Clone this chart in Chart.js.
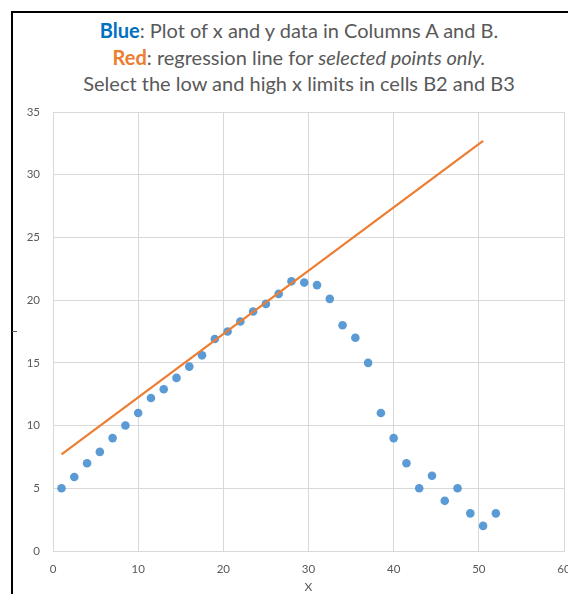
<!DOCTYPE html>
<html>
<head>
<meta charset="utf-8">
<script src="https://cdn.jsdelivr.net/npm/chart.js@4.4.1/dist/chart.umd.min.js"></script>
<style>
  html, body { margin: 0; padding: 0; background: #fff; overflow: hidden; width: 568px; height: 594px; }
  #frame { position: absolute; left: 11px; top: 11px; width: 700px; height: 700px;
           border-left: 2px solid #000; border-top: 2px solid #000; }
  #tickmark { position: absolute; left: 12px; top: 331px; width: 5px; height: 1px; background: #595959; }
  #title { position: absolute; left: 0; top: 17px; width: 598px; text-align: center;
           font-family: Lato, "Liberation Sans", sans-serif; font-size: 20px; line-height: 26.5px; color: #595959; }
  #title .b { color: #0070C0; font-weight: bold; }
  #title .r { color: #ED7D31; font-weight: bold; }
  #title i { font-style: italic; }
  canvas { position: absolute; left: 0; top: 0; }
</style>
</head>
<body>
<div id="frame"></div>
<div id="tickmark"></div>
<div id="title">
  <div><span class="b">Blue</span>: Plot of x and y data in Columns A and B.</div>
  <div><span class="r">Red</span>: regression line for <i>selected points only.</i></div>
  <div>Select the low and high x limits in cells B2 and B3</div>
</div>
<canvas id="c" width="640" height="594"></canvas>
<script>
// Data
const xValues = [1, 2.5, 4, 5.5, 7, 8.5, 10, 11.5, 13, 14.5, 16, 17.5, 19, 20.5, 22, 23.5, 25, 26.5, 28, 29.5, 31, 32.5, 34, 35.5, 37, 38.5, 40, 41.5, 43, 44.5, 46, 47.5, 49, 50.5, 52];
const yValues = [5, 5.9, 7, 7.9, 9, 10, 11, 12.2, 12.9, 13.8, 14.7, 15.6, 16.9, 17.5, 18.3, 19.1, 19.7, 20.5, 21.5, 21.4, 21.2, 20.1, 18, 17, 15, 11, 9, 7, 5, 6, 4, 5, 3, 2, 3];
const regX = [1, 50.5];
const regY = [7.7, 32.7];
const xTicks = [0, 10, 20, 30, 40, 50, 60];
const yTicks = [0, 5, 10, 15, 20, 25, 30, 35];
const xAxisTitle = 'X';

const points = xValues.map((x, i) => ({ x: x, y: yValues[i] }));
const regLine = regX.map((x, i) => ({ x: x, y: regY[i] }));

const tickFont = { family: 'Lato, "Liberation Sans", sans-serif', size: 11.5 };
const gridColor = '#D9D9D9';
const textColor = '#595959';

new Chart(document.getElementById('c'), {
  type: 'scatter',
  data: {
    datasets: [
      {
        label: 'Data',
        data: points,
        backgroundColor: '#5B9BD5',
        borderColor: '#5B9BD5',
        pointRadius: 4.3,
        pointBorderWidth: 0,
        order: 2
      },
      {
        label: 'Regression',
        data: regLine,
        showLine: true,
        borderColor: '#ED7D31',
        backgroundColor: '#ED7D31',
        borderWidth: 2.2,
        pointRadius: 0,
        fill: false,
        order: 1
      }
    ]
  },
  options: {
    responsive: false,
    animation: false,
    events: [],
    layout: { padding: { top: 112, right: 76, left: 0, bottom: 0 } },
    plugins: { legend: { display: false }, title: { display: false }, tooltip: { enabled: false } },
    scales: {
      x: {
        type: 'linear',
        min: xTicks[0],
        max: xTicks[xTicks.length - 1],
        afterBuildTicks: s => { s.ticks = xTicks.map(v => ({ value: v })); },
        afterFit: s => { s.height = 43; },
        ticks: { color: textColor, font: tickFont, padding: 11, maxRotation: 0 },
        grid: { color: gridColor, drawTicks: false, lineWidth: 1 },
        border: { color: gridColor, width: 1 },
        title: { display: true, text: xAxisTitle, color: textColor,
                 font: { family: 'Lato, "Liberation Sans", sans-serif', size: 12 }, padding: { top: 0, bottom: 0 } }
      },
      y: {
        type: 'linear',
        min: yTicks[0],
        max: yTicks[yTicks.length - 1],
        afterBuildTicks: s => { s.ticks = yTicks.map(v => ({ value: v })); },
        afterFit: s => { s.width = 53; },
        ticks: { color: textColor, font: tickFont, padding: 13 },
        grid: { color: gridColor, drawTicks: false, lineWidth: 1 },
        border: { color: gridColor, width: 1 }
      }
    }
  }
});
</script>
</body>
</html>
